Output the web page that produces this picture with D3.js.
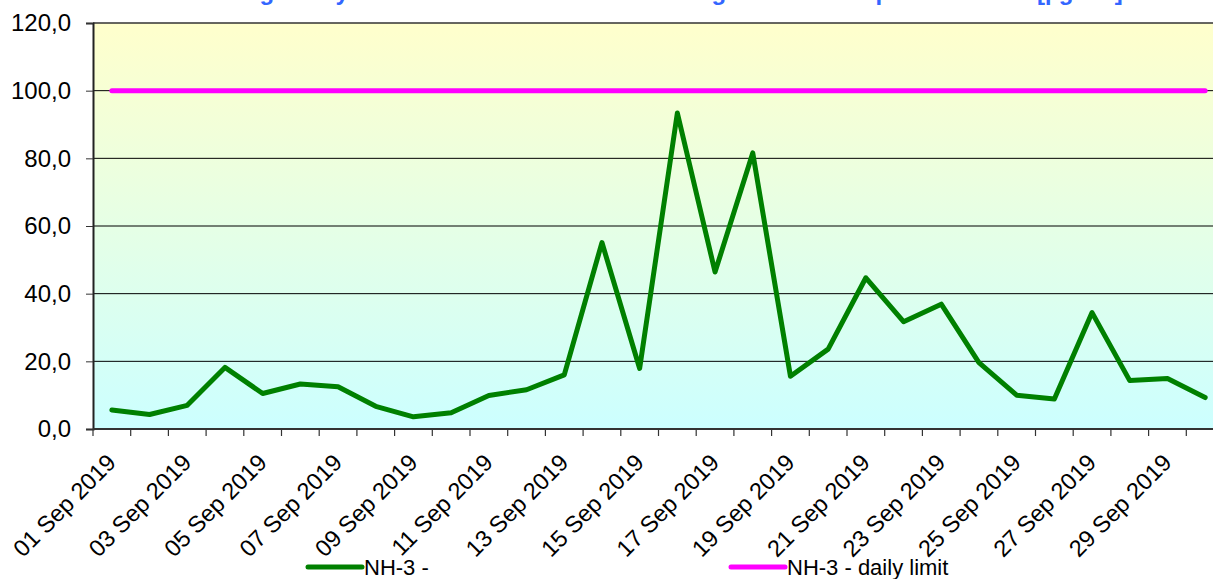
<!DOCTYPE html>
<html>
<head>
<meta charset="utf-8">
<script src="https://cdn.jsdelivr.net/npm/d3@7"></script>
<style>
  html, body { margin: 0; padding: 0; background: #fff; overflow: hidden; }
  svg { display: block; font-family: Arial, "Liberation Sans", sans-serif; }
</style>
</head>
<body>
<div id="chart"></div>
<script>
// ── Data ─────────────────────────────────────────────────────
const days = d3.range(1, 31).map(d => (d < 10 ? "0" + d : "" + d) + " Sep 2019");

const nh3Values = [
  5.6, 4.3, 7.0, 18.2, 10.5, 13.3, 12.5, 6.7, 3.6, 4.8,
  9.9, 11.6, 16.0, 55.1, 17.9, 93.4, 46.4, 81.6, 15.6, 23.6,
  44.7, 31.7, 36.9, 19.6, 10.0, 8.9, 34.4, 14.3, 14.9, 9.3
];

const dailyLimit = days.map(() => 100);

const yTicks = [0, 20, 40, 60, 80, 100, 120];

const seriesNames = ["NH-3 -", "NH-3 - daily limit"];

const chartTitle = "NH-3 - Average daily concentrations at the measuring station in September 2019 [µg/m3]";

// ── Layout ──────────────────────────────────────────────────
const W = 1213, H = 579;
const plot = { left: 93, top: 23, bottom: 429, right: 93 + 30 * 37.7 };

const svg = d3.select("#chart").append("svg")
  .attr("width", W).attr("height", H);

const x = d3.scaleBand().domain(days).range([plot.left, plot.right]);
const xc = d => x(d) + x.bandwidth() / 2;
const y = d3.scaleLinear().domain([0, 120]).range([plot.bottom, plot.top]);

// background gradient
const grad = svg.append("defs").append("linearGradient")
  .attr("id", "bg").attr("x1", 0).attr("y1", 0).attr("x2", 0).attr("y2", 1);
grad.append("stop").attr("offset", "0%").attr("stop-color", "#FFFFCC");
grad.append("stop").attr("offset", "100%").attr("stop-color", "#CCFFFF");

svg.append("rect")
  .attr("x", plot.left).attr("y", plot.top)
  .attr("width", plot.right - plot.left).attr("height", plot.bottom - plot.top)
  .attr("fill", "url(#bg)");

// title (cut off at the top edge, as in the original)
svg.append("text")
  .attr("x", 620).attr("y", 0)
  .attr("text-anchor", "middle")
  .attr("font-size", "24px").attr("font-weight", "bold")
  .attr("fill", "#3366FF")
  .text(chartTitle);

// gridlines
svg.append("g").selectAll("line")
  .data(yTicks.filter(t => t > 0 && t < 120))
  .join("line")
  .attr("x1", plot.left).attr("x2", plot.right)
  .attr("y1", d => y(d)).attr("y2", d => y(d))
  .attr("stroke", "#000").attr("stroke-width", 1);

// frame top
svg.append("line")
  .attr("x1", plot.left).attr("x2", plot.right)
  .attr("y1", plot.top).attr("y2", plot.top)
  .attr("stroke", "#333").attr("stroke-width", 1.5);

// y axis
const yAxis = svg.append("g")
  .attr("transform", `translate(${plot.left},0)`)
  .call(d3.axisLeft(y).tickValues(yTicks).tickSize(7).tickPadding(15)
    .tickFormat(d => d3.format(".1f")(d).replace(".", ",")));
yAxis.select(".domain").attr("stroke", "#222").attr("stroke-width", 2);
yAxis.selectAll(".tick line").attr("stroke", "#333");
yAxis.selectAll("text")
  .attr("font-size", "24px").attr("fill", "#000")
  .attr("font-family", "Arial, 'Liberation Sans', sans-serif");

// x axis (ticks at category boundaries)
const xAxis = svg.append("g")
  .attr("transform", `translate(0,${plot.bottom})`);
xAxis.append("line")
  .attr("x1", plot.left).attr("x2", plot.right)
  .attr("stroke", "#333").attr("stroke-width", 2);
xAxis.selectAll("line.tk")
  .data(days.concat(["end"]))
  .join("line").attr("class", "tk")
  .attr("x1", (d, i) => i < days.length ? x(d) : plot.right)
  .attr("x2", (d, i) => i < days.length ? x(d) : plot.right)
  .attr("y1", 0).attr("y2", 7)
  .attr("stroke", "#333").attr("stroke-width", 1.2);
xAxis.selectAll("text")
  .data(days.filter((d, i) => i % 2 === 0))
  .join("text")
  .attr("transform", d => `translate(${xc(d) + 5.5},${35}) rotate(-45)`)
  .attr("text-anchor", "end")
  .attr("font-size", "23.5px")
  .attr("fill", "#000")
  .text(d => d);

// daily limit line
const line = d3.line().x((d, i) => xc(days[i])).y(d => y(d));

svg.append("path")
  .datum(dailyLimit)
  .attr("d", line)
  .attr("fill", "none")
  .attr("stroke", "#FF00FF")
  .attr("stroke-width", 5)
  .attr("stroke-linecap", "round");

// NH-3 series
svg.append("path")
  .datum(nh3Values)
  .attr("d", line)
  .attr("fill", "none")
  .attr("stroke", "#008000")
  .attr("stroke-width", 5)
  .attr("stroke-linejoin", "round")
  .attr("stroke-linecap", "round");

// legend
const legend = [
  { name: seriesNames[0], color: "#008000", x: 308 },
  { name: seriesNames[1], color: "#FF00FF", x: 731 }
];
const lg = svg.append("g").selectAll("g").data(legend).join("g")
  .attr("transform", d => `translate(${d.x},567)`);
lg.append("line")
  .attr("x1", 0).attr("x2", 54)
  .attr("stroke", d => d.color).attr("stroke-width", 5)
  .attr("stroke-linecap", "round");
lg.append("text")
  .attr("x", 56).attr("y", 8)
  .attr("font-size", "22px").attr("fill", "#000")
  .text(d => d.name);
</script>
</body>
</html>
